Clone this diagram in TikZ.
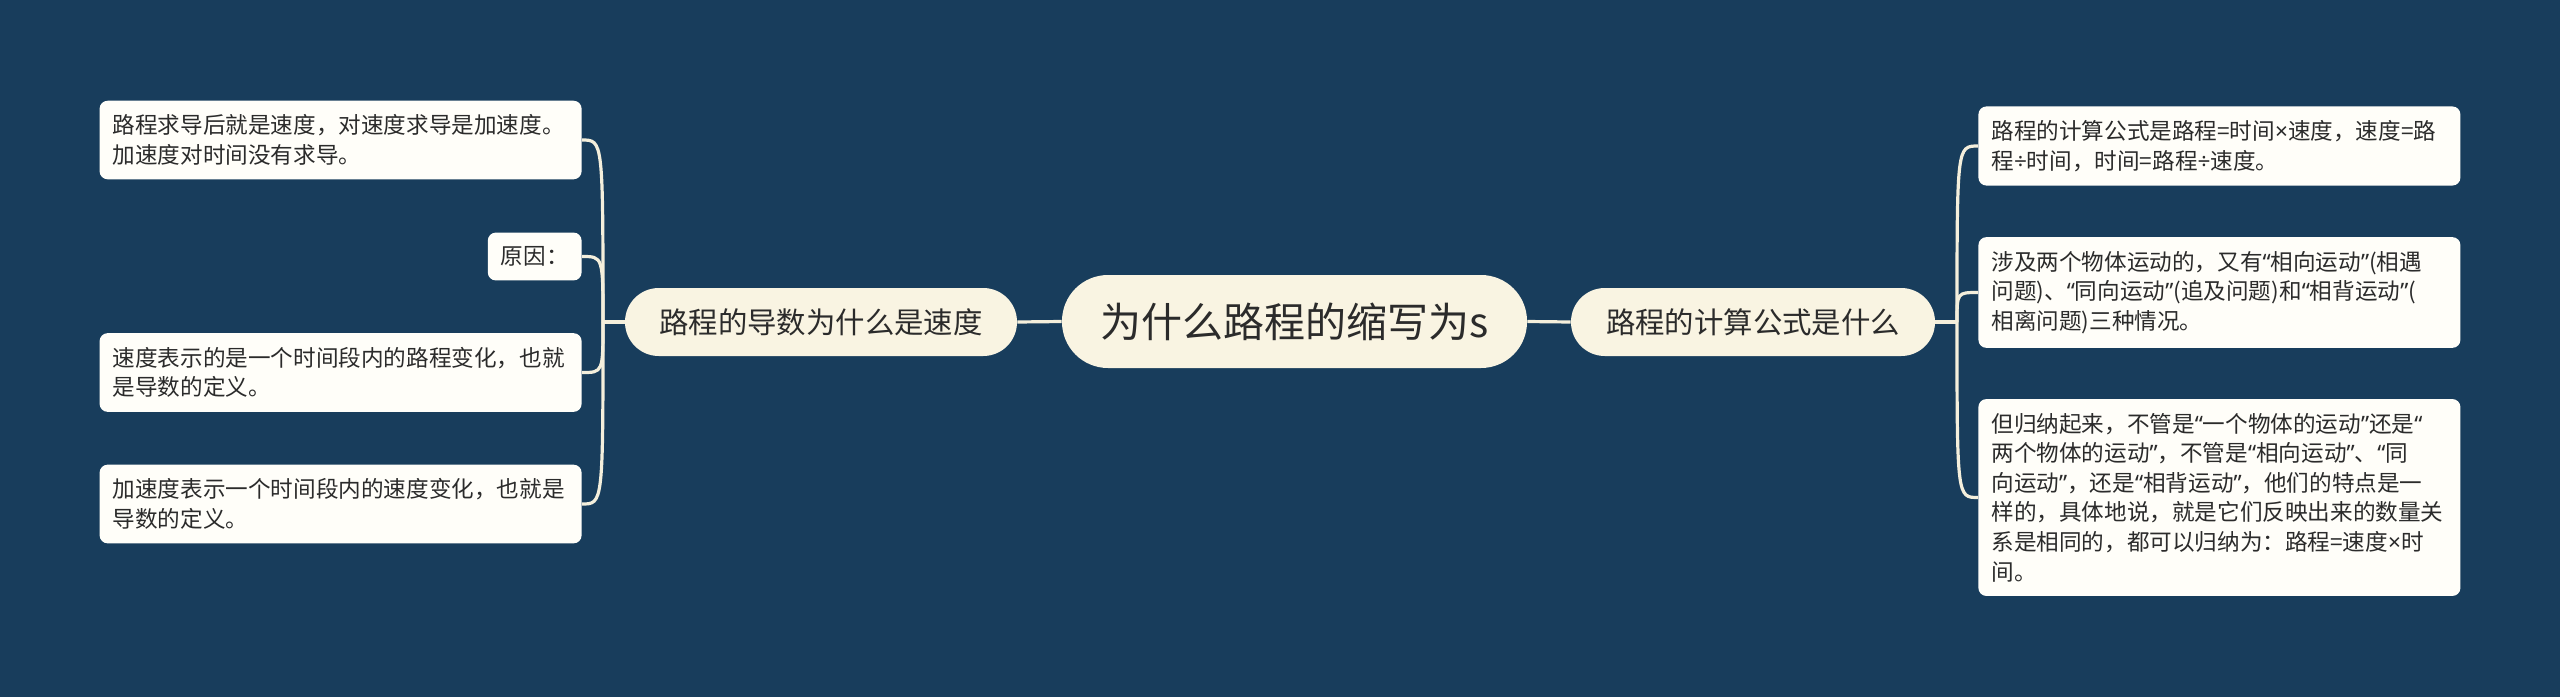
\documentclass[tikz,border=0pt]{standalone}
\usepackage{fontspec}
\setmainfont{Noto Sans CJK SC}
\newfontfamily\latinfont{Noto Sans}
\usetikzlibrary{calc}

\definecolor{bgblue}{HTML}{183D5C}
\definecolor{cream}{HTML}{F9F4E2}
\definecolor{paper}{HTML}{FFFEF9}
\definecolor{ink}{HTML}{2B2B2B}
\definecolor{wire}{HTML}{F4EFDC}

\newcommand{\oqt}{{\latinfont “}}
\newcommand{\cqt}{{\latinfont ”}}
\newcommand{\tms}{{\latinfont ×}}
\newcommand{\dvd}{{\latinfont ÷}}

\begin{document}
\begin{tikzpicture}[x=0.5pt,y=-0.5pt,
  root/.style={fill=cream, text=ink, rounded corners=23pt, minimum height=46.5pt, minimum width=232.5pt, font=\fontsize{20.5pt}{24pt}\selectfont},
  topic/.style={fill=cream, text=ink, rounded corners=16.9pt, minimum height=34pt, font=\fontsize{14.7pt}{18pt}\selectfont},
  leaf/.style={fill=paper, text=ink, rounded corners=4pt, inner xsep=6.5pt, inner ysep=7pt, align=left, font=\fontsize{11.3pt}{14.8pt}\selectfont},
  wide/.style={text width=228pt},
  link/.style={draw=wire, line width=1.6pt}]

\fill[bgblue] (0,0) rectangle (2560,697);
\useasboundingbox (0,0) rectangle (2560,697);

\node[root] (root) at (1294.5,321.5) {为什么路程的缩写为s};
\node[topic, minimum width=196pt] (deriv) at (821,322) {路程的导数为什么是速度};
\node[topic, minimum width=182pt] (formula) at (1753,322) {路程的计算公式是什么};

\node[leaf, wide, anchor=east] (d1) at (582,140) {路程求导后就是速度，对速度求导是加速度。\\加速度对时间没有求导。};
\node[leaf, anchor=east] (d2) at (582,256.5) {原因：};
\node[leaf, wide, anchor=east] (d3) at (582,372.5) {速度表示的是一个时间段内的路程变化，也就\\是导数的定义。};
\node[leaf, wide, anchor=east] (d4) at (582,504) {加速度表示一个时间段内的速度变化，也就是\\导数的定义。};

\node[leaf, wide, anchor=west] (f1) at (1978,146) {路程的计算公式是路程=时间\tms 速度，速度=路\\程\dvd 时间，时间=路程\dvd 速度。};
\node[leaf, wide, anchor=west] (f2) at (1978,292.5) {涉及两个物体运动的，又有\oqt 相向运动\cqt(相遇\\问题)、\oqt 同向运动\cqt(追及问题)和\oqt 相背运动\cqt(\\相离问题)三种情况。};
\node[leaf, wide, anchor=west] (f3) at (1978,497.5) {但归纳起来，不管是\oqt 一个物体的运动\cqt 还是\oqt\\两个物体的运动\cqt，不管是\oqt 相向运动\cqt、\oqt 同\\向运动\cqt，还是\oqt 相背运动\cqt，他们的特点是一\\样的，具体地说，就是它们反映出来的数量关\\系是相同的，都可以归纳为：路程=速度\tms 时\\间。};

\coordinate (ltrunk) at (603,322);
\coordinate (rtrunk) at (1957,322);

\draw[link] (root.west) -- (deriv.east);
\draw[link] (root.east) -- (formula.west);
\draw[link] (deriv.west) -- (ltrunk);
\draw[link] (formula.east) -- (rtrunk);
\foreach \n in {d1,d2,d3,d4}
  \draw[link] (ltrunk) .. controls (ltrunk |- \n.east) .. (\n.east);
\foreach \n in {f1,f2,f3}
  \draw[link] (rtrunk) .. controls (rtrunk |- \n.west) .. (\n.west);
\end{tikzpicture}
\end{document}
